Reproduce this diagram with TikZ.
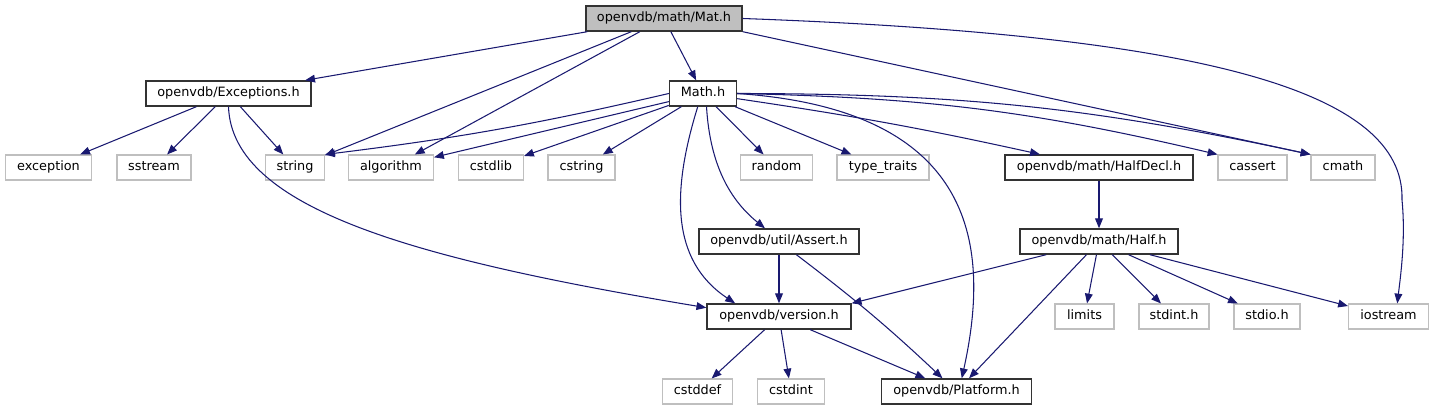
\documentclass[tikz,border=0pt]{standalone}
\usepackage{fontspec}
\setmainfont{DejaVu Sans}
\usetikzlibrary{arrows.meta}
\definecolor{edgeblue}{HTML}{191970}
\definecolor{boxgray}{HTML}{BFBFBF}
\begin{document}
\begin{tikzpicture}[x=0.02cm, y=-0.02cm,
    file/.style={draw=black!80, line width=0.8pt, fill=white, minimum height=0.5cm,
      inner sep=0pt, text height=5.4pt, text depth=1.5pt, font=\fontsize{7.3}{8}\selectfont},
    sysfile/.style={file, draw=boxgray, line width=0.6pt},
    edge/.style={draw=edgeblue, line width=0.6pt, -{Triangle[length=5.6pt,width=4.4pt]}}]
  \useasboundingbox (0,0) rectangle (1434,411);%

  % Marking the included file at the top
  \node [file, fill=boxgray, minimum width=3.12cm] (mat) at (664,18.5) {openvdb/math/Mat.h};%

  % Marking second row
  \node [file, minimum width=3.30cm] (exc) at (228.5,93.5) {openvdb/Exceptions.h};%
  \node [file, minimum width=1.34cm] (math) at (703,93.5) {Math.h};%

  % Marking third row
  \node [sysfile, minimum width=1.72cm] (exception) at (48.5,167.5) {exception};%
  \node [sysfile, minimum width=1.48cm] (sstream) at (154,167.5) {sstream};%
  \node [sysfile, minimum width=1.18cm] (string) at (295,167.5) {string};%
  \node [sysfile, minimum width=1.70cm] (algorithm) at (391,167.5) {algorithm};%
  \node [sysfile, minimum width=1.30cm] (cstdlib) at (491,167.5) {cstdlib};%
  \node [sysfile, minimum width=1.34cm] (cstring) at (581.5,167.5) {cstring};%
  \node [sysfile, minimum width=1.44cm] (random) at (776.5,167.5) {random};%
  \node [sysfile, minimum width=1.84cm] (typetraits) at (883,167.5) {type\_traits};%
  \node [file, minimum width=3.76cm] (halfdecl) at (1099,167.5) {openvdb/math/HalfDecl.h};%
  \node [sysfile, minimum width=1.38cm] (cassert) at (1252.5,167.5) {cassert};%
  \node [sysfile, minimum width=1.28cm] (cmath) at (1343,167.5) {cmath};%

  % Marking fourth row
  \node [file, minimum width=3.20cm] (assert) at (779,241.5) {openvdb/util/Assert.h};%
  \node [file, minimum width=3.16cm] (half) at (1099,241.5) {openvdb/math/Half.h};%

  % Marking fifth row
  \node [file, minimum width=2.88cm] (version) at (779,316.5) {openvdb/version.h};%
  \node [sysfile, minimum width=1.18cm] (limits) at (1084.5,316.5) {limits};%
  \node [sysfile, minimum width=1.40cm] (stdint) at (1174,316.5) {stdint.h};%
  \node [sysfile, minimum width=1.32cm] (stdio) at (1267,316.5) {stdio.h};%
  \node [sysfile, minimum width=1.60cm] (iostream) at (1388.5,316.5) {iostream};%

  % Marking bottom row
  \node [sysfile, minimum width=1.40cm] (cstddef) at (697.5,391.5) {cstddef};%
  \node [sysfile, minimum width=1.34cm] (cstdint) at (791,391.5) {cstdint};%
  \node [file, minimum width=3.00cm] (platform) at (956.5,391.5) {openvdb/Platform.h};%

  % Drawing edges from Mat.h
  \draw [edge] (mat) -- (exc);%
  \draw [edge] (mat) -- (string);%
  \draw [edge] (mat) -- (algorithm);%
  \draw [edge] (mat) -- (math);%
  \draw [edge] (mat.south east) -- (cmath.north west);%
  \draw [edge] (mat.east) .. controls (1200,35) and (1405,90) .. (1402,200)
    .. controls (1406,240) and (1400,280) .. ([xshift=5pt]iostream.north);%

  % Drawing edges from Exceptions.h
  \draw [edge] (exc) -- (exception);%
  \draw [edge] (exc) -- (sstream);%
  \draw [edge] (exc) -- (string);%
  \draw [edge] (exc.south) .. controls (232,210) and (420,260) .. ([yshift=5pt]version.west);%

  % Drawing edges from Math.h
  \draw [edge] (math.west) to [bend left=3] (string.north east);%
  \draw [edge] (math) -- (algorithm);%
  \draw [edge] (math) -- (cstdlib);%
  \draw [edge] (math) -- (cstring);%
  \draw [edge] (math) -- (random);%
  \draw [edge] (math) -- (typetraits);%
  \draw [edge] (math) to [bend left=2] (halfdecl);%
  \draw [edge] (math.east) to [bend left=6] (cassert.north west);%
  \draw [edge] (math.east) to [bend left=6] (cmath.north west);%
  \draw [edge] ([xshift=2pt]math.south) .. controls (710,165) and (730,200) .. ([xshift=-8pt]assert.north);%
  \draw [edge] ([xshift=-3pt]math.south) .. controls (672,190) and (670,260) .. ([xshift=-25pt]version.north);%
  \draw [edge] (math.east) .. controls (980,110) and (990,250) .. ([xshift=3pt]platform.north);%

  % Drawing edges of the lower part
  \draw [edge] (halfdecl) -- (half);%
  \draw [edge] (assert) -- (version);%
  \draw [edge] (assert) to [bend left=3] (platform);%
  \draw [edge] (half) -- (version.north east);%
  \draw [edge] (half) -- (platform);%
  \draw [edge] (half) -- (limits);%
  \draw [edge] (half) -- (stdint);%
  \draw [edge] (half) -- (stdio);%
  \draw [edge] (half) -- (iostream);%
  \draw [edge] (version) -- (cstddef);%
  \draw [edge] (version) -- (cstdint);%
  \draw [edge] (version) -- (platform);%
\end{tikzpicture}
\end{document}
